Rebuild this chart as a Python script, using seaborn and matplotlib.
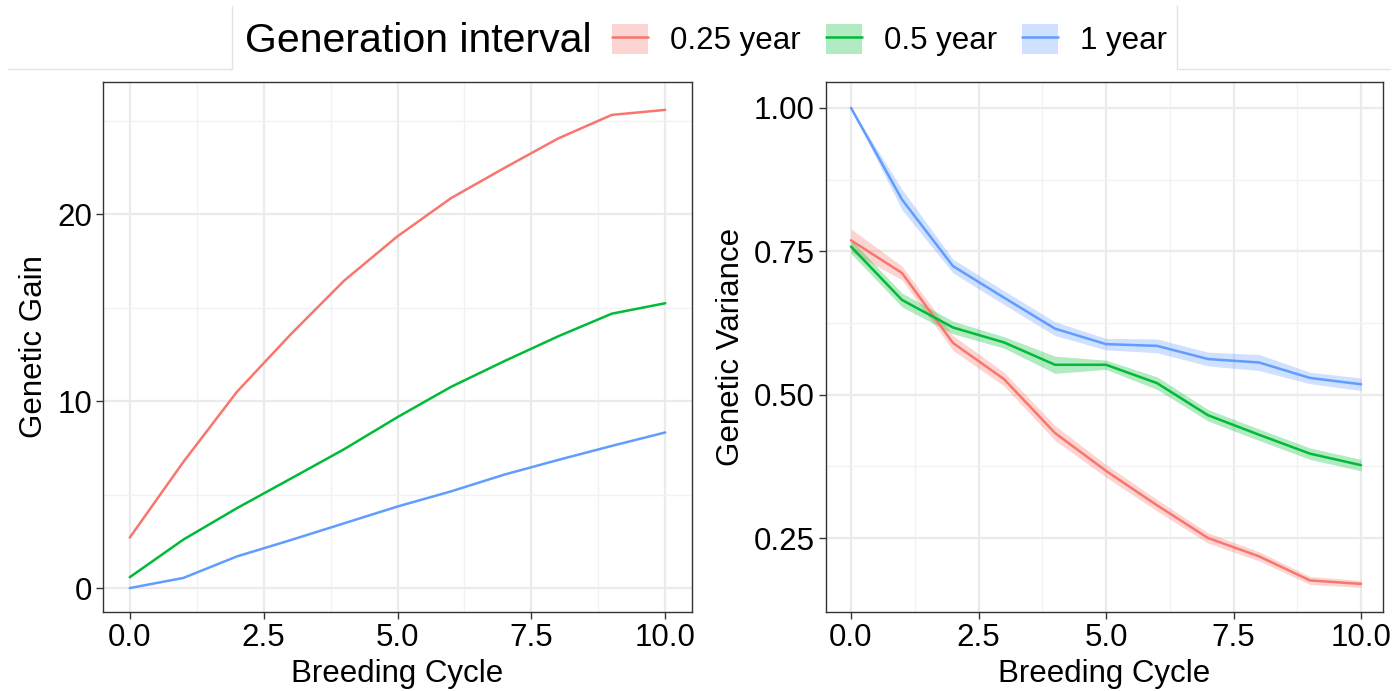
import numpy as np
import pandas as pd
import matplotlib
matplotlib.use("Agg")
import matplotlib.pyplot as plt
import seaborn as sns
from matplotlib.patches import Patch
from matplotlib.lines import Line2D
from matplotlib.legend_handler import HandlerTuple

cycles = [0, 1, 2, 3, 4, 5, 6, 7, 8, 9, 10]
intervals = ["0.25 year", "0.5 year", "1 year"]
colors = ["#F8766D", "#00BA38", "#619CFF"]

gain_025 = [2.70, 6.74, 10.49, 13.55, 16.43, 18.81, 20.85, 22.47, 24.04, 25.30, 25.57]
gain_05 = [0.58, 2.59, 4.27, 5.84, 7.42, 9.14, 10.76, 12.14, 13.46, 14.67, 15.23]
gain_1 = [0.00, 0.54, 1.69, 2.56, 3.46, 4.36, 5.17, 6.07, 6.85, 7.60, 8.32]

var_025 = [0.769, 0.712, 0.590, 0.527, 0.433, 0.367, 0.307, 0.250, 0.218, 0.176, 0.170]
var_05 = [0.758, 0.665, 0.617, 0.591, 0.552, 0.552, 0.520, 0.464, 0.430, 0.397, 0.377]
var_1 = [1.000, 0.840, 0.724, 0.669, 0.615, 0.588, 0.585, 0.562, 0.556, 0.529, 0.518]

var_025_hw = [0.020, 0.012, 0.013, 0.012, 0.013, 0.011, 0.010, 0.009, 0.008, 0.007, 0.006]
var_05_hw = [0.012, 0.012, 0.011, 0.010, 0.015, 0.008, 0.011, 0.010, 0.010, 0.010, 0.010]
var_1_hw = [0.000, 0.018, 0.012, 0.012, 0.012, 0.010, 0.012, 0.012, 0.014, 0.010, 0.011]

gain_df = pd.DataFrame({
    "cycle": cycles * 3,
    "gain": gain_025 + gain_05 + gain_1,
    "interval": [i for i in intervals for _ in cycles],
})
var_df = pd.DataFrame({
    "cycle": cycles * 3,
    "var": var_025 + var_05 + var_1,
    "hw": var_025_hw + var_05_hw + var_1_hw,
    "interval": [i for i in intervals for _ in cycles],
})

sns.set_theme(style="whitegrid")
plt.rcParams["font.family"] = ["Liberation Sans", "DejaVu Sans"]

fig = plt.figure(figsize=(13.98, 6.91), dpi=100)
W, H = 1398, 691
ax1 = fig.add_axes([103 / W, 1 - 612 / H, (692 - 103) / W, (612 - 82) / H])
ax2 = fig.add_axes([826 / W, 1 - 612 / H, (1383 - 826) / W, (612 - 82) / H])

palette = dict(zip(intervals, colors))

sns.lineplot(data=gain_df, x="cycle", y="gain", hue="interval", palette=palette,
             ax=ax1, legend=False, linewidth=1.8, errorbar=None)
for name in intervals:
    sub = var_df[var_df["interval"] == name]
    ax2.fill_between(sub["cycle"], sub["var"] - sub["hw"], sub["var"] + sub["hw"],
                     color=palette[name], alpha=0.3, linewidth=0)
sns.lineplot(data=var_df, x="cycle", y="var", hue="interval", palette=palette,
             ax=ax2, legend=False, linewidth=1.8, errorbar=None)

def style(ax, xlim, ylim, yticks, yminor, ylab, yfmt):
    ax.set_facecolor("white")
    ax.set_xlim(*xlim)
    ax.set_ylim(*ylim)
    ax.set_xticks([0, 2.5, 5, 7.5, 10])
    ax.set_xticklabels(["0.0", "2.5", "5.0", "7.5", "10.0"])
    ax.set_xticks([1.25, 3.75, 6.25, 8.75], minor=True)
    ax.set_yticks(yticks)
    ax.set_yticklabels([yfmt.format(v) for v in yticks])
    ax.set_yticks(yminor, minor=True)
    ax.grid(which="major", color="#EBEBEB", linewidth=1.6)
    ax.grid(which="minor", color="#F2F2F2", linewidth=1.0)
    ax.set_axisbelow(True)
    for s in ax.spines.values():
        s.set_color("#333333")
        s.set_linewidth(1.0)
    ax.tick_params(axis="both", which="major", length=5, width=1.0, color="#333333",
                   labelsize=22.5, labelcolor="black", pad=3, bottom=True, left=True)
    ax.tick_params(axis="both", which="minor", length=0)
    ax.set_xlabel("Breeding Cycle", fontsize=22.5, labelpad=4, color="black")
    ax.set_ylabel(ylab, fontsize=22.5, labelpad=6, color="black")

style(ax1, (-0.5, 10.5), (-1.28, 27.06), [0, 10, 20], [5, 15, 25], "Genetic Gain", "{:.0f}")
style(ax2, (-0.49, 10.43), (0.121, 1.045), [0.25, 0.50, 0.75, 1.00], [0.375, 0.625, 0.875],
      "Genetic Variance", "{:.2f}")

# legend area: faint separator lines outside the box, vertical box edges
line_kw = dict(color="#E3E3E3", linewidth=1.0, transform=fig.transFigure)
fig.add_artist(Line2D([8 / W, 232 / W], [1 - 69 / H, 1 - 69 / H], **line_kw))
fig.add_artist(Line2D([1177 / W, 1390 / W], [1 - 69 / H, 1 - 69 / H], **line_kw))
fig.add_artist(Line2D([232 / W, 232 / W], [1 - 6 / H, 1 - 69 / H], **line_kw))
fig.add_artist(Line2D([1177 / W, 1177 / W], [1 - 6 / H, 1 - 69 / H], **line_kw))
fig.text(245 / W, 1 - 41 / H, "Generation interval", fontsize=29.5, color="black",
         ha="left", va="center")

handles = []
for name in intervals:
    handles.append((Patch(facecolor=palette[name], alpha=0.3, edgecolor="none"),
                    Line2D([], [], color=palette[name], linewidth=1.8)))
leg = fig.legend(handles, intervals, handler_map={tuple: HandlerTuple(ndivide=1)},
                 loc="center left", bbox_to_anchor=(612 / W, 1 - 40 / H), ncol=3,
                 fontsize=22.5, frameon=False, borderpad=0, borderaxespad=0,
                 handlelength=1.16, handleheight=1.13, handletextpad=0.7,
                 columnspacing=0.8)
for t in leg.get_texts():
    t.set_color("black")

fig.savefig("out.png", dpi=100, facecolor="white")
